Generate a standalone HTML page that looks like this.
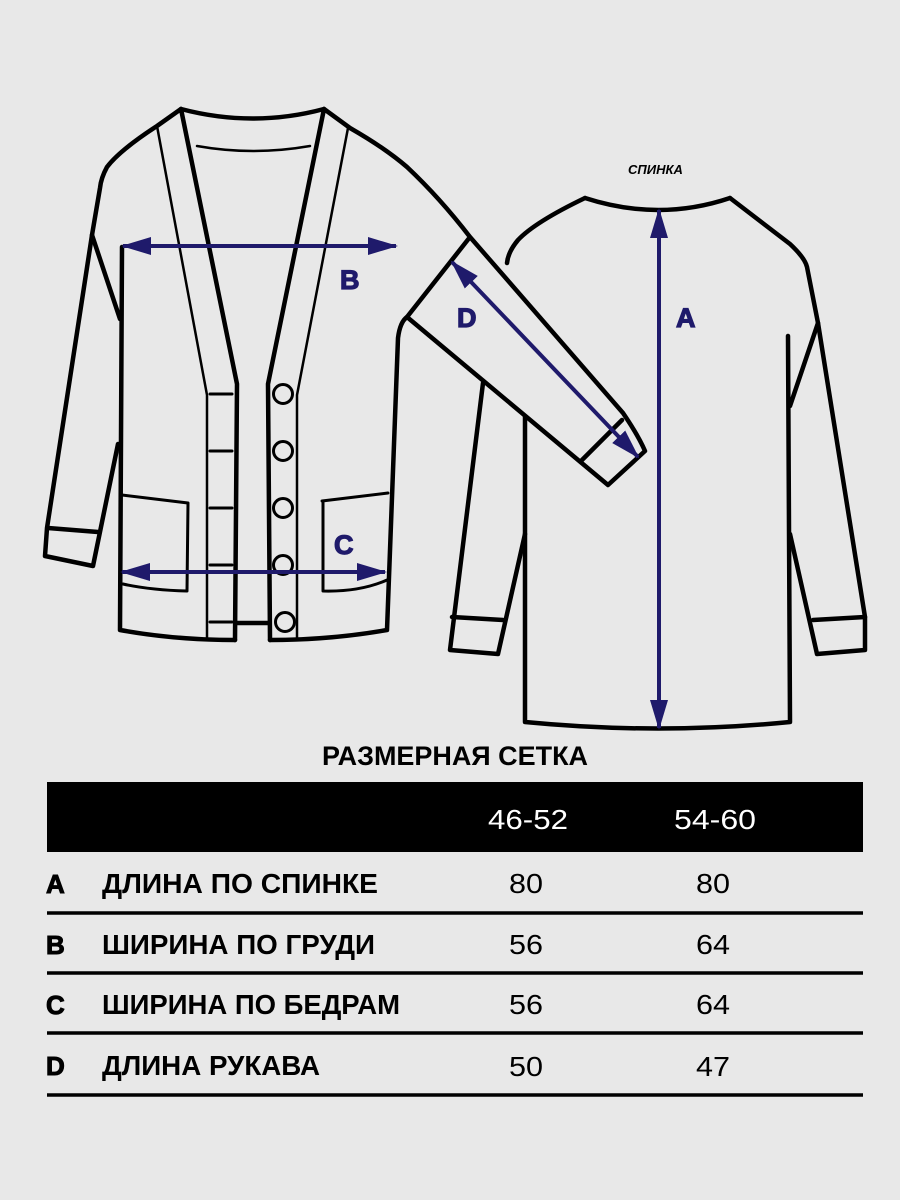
<!DOCTYPE html>
<html><head><meta charset="utf-8"><style>
html,body{margin:0;padding:0;background:#e8e8e8;}
svg{display:block}
text{font-family:"Liberation Sans",sans-serif;}
</style></head><body>
<svg width="900" height="1200" viewBox="0 0 900 1200" xmlns="http://www.w3.org/2000/svg">
<rect width="900" height="1200" fill="#e8e8e8"/>
<defs>
<marker id="ah" markerWidth="30" markerHeight="20" refX="28" refY="10" orient="auto-start-reverse" markerUnits="userSpaceOnUse" viewBox="0 0 30 20"><path d="M0,1 L30,10 L0,19 Z" fill="#1f1a6b"/></marker>
</defs>
<g fill="none" stroke="#000" stroke-width="4.5" stroke-linejoin="round" stroke-linecap="round">
<!-- BACK -->
<path d="M585,198 Q659,222 730,198"/>
<path d="M585,198 Q535,222 518,240 Q508,252 507,263"/>
<path d="M525,417 L525,722 Q659,735 790,722 L788,336"/>
<path d="M730,198 L790,244 Q805,258 807,267 L818,323 L865,617 L865,650 L817,654 L790,534"/>
<path d="M818,323 L790,406"/>
<path d="M813,620 L865,617"/>
<path d="M483,383 L450,650 L498,654 L525,534"/>
<path d="M452,617 L503,620"/>
<!-- FRONT -->
<path d="M181,109 Q253,128 324,109"/>
<path d="M197,146 Q253,156 310,146" stroke-width="2.5"/>
<path d="M181,109 L157,126 Q120,150 107,167 Q101,178 100,188 L92,235 L47,528 L45,556 L93,566 L118,444"/>
<path d="M48,528 L98,532"/>
<path d="M92,235 L120,319"/>
<path d="M122,247 L120,630 Q175,640 235,640"/>
<path d="M181,109 L237,384 L235,640"/>
<path d="M157,126 L207,395 L207,640" stroke-width="2.5"/>
<path d="M324,109 L268,384 L270,640"/>
<path d="M348,128 L297,395 L297,640" stroke-width="2.5"/>
<path d="M237,623 L268,623"/>
<path d="M270,640 Q330,640 387,630 L398,338 Q400,322 407,317"/>
<!-- pockets -->
<path d="M122,495 L188,503 L187,591 Q150,590 123,584" stroke-width="3"/>
<path d="M322,501 L388,493 M323,501 L323,591 Q360,592 387,580" stroke-width="3"/>
<!-- buttonholes -->
<path d="M210,394 L232,394 M210,451 L232,451 M210,508 L232,508 M210,565 L232,565 M210,622 L232,622" stroke-width="3"/>
<!-- sleeve -->
<path d="M324,109 L350,128 Q385,148 407,167 Q440,198 470,237 L623,413 Q638,435 645,451 L608,485 L407,317 L470,237"/>
<path d="M582,460 L622,420"/>
</g>
<g fill="none" stroke="#000" stroke-width="3">
<circle cx="283" cy="394" r="9.5"/><circle cx="283" cy="451" r="9.5"/><circle cx="283" cy="508" r="9.5"/><circle cx="283" cy="565" r="9.5"/><circle cx="285" cy="622" r="9.5"/>
</g>
<g stroke="#1f1a6b" stroke-width="4" fill="none">
<line x1="123" y1="246" x2="396" y2="246" marker-start="url(#ah)" marker-end="url(#ah)"/>
<line x1="122" y1="572" x2="385" y2="572" marker-start="url(#ah)" marker-end="url(#ah)"/>
<line x1="452" y1="262" x2="638" y2="457" marker-start="url(#ah)" marker-end="url(#ah)"/>
<line x1="659" y1="210" x2="659" y2="728" marker-start="url(#ah)" marker-end="url(#ah)"/>
</g>
<g fill="#1f1a6b" font-weight="bold" font-size="27" stroke="#1f1a6b" stroke-width="1.2">
<text x="340" y="289">B</text>
<text x="334" y="554">C</text>
<text x="457" y="327">D</text>
<text x="676" y="327">A</text>
</g>
<text x="628" y="174" font-size="13" font-weight="bold" font-style="italic">СПИНКА</text>
<!-- table -->
<text x="322" y="765" font-size="27" font-weight="bold" textLength="266" lengthAdjust="spacingAndGlyphs">РАЗМЕРНАЯ СЕТКА</text>
<rect x="47" y="782" width="816" height="70" fill="#000"/>
<text x="488" y="829" font-size="28" fill="#fff" textLength="80" lengthAdjust="spacingAndGlyphs">46-52</text>
<text x="674" y="829" font-size="28" fill="#fff" textLength="82" lengthAdjust="spacingAndGlyphs">54-60</text>
<g stroke="#000" stroke-width="3.5">
<line x1="47" y1="913" x2="863" y2="913"/><line x1="47" y1="973" x2="863" y2="973"/>
<line x1="47" y1="1033" x2="863" y2="1033"/><line x1="47" y1="1095" x2="863" y2="1095"/>
</g>
<g font-size="28" fill="#000">
<g font-weight="bold" font-size="26" stroke="#000" stroke-width="1">
<text x="46" y="893">A</text>
<text x="46" y="954">B</text>
<text x="46" y="1014">C</text>
<text x="46" y="1075">D</text>
</g>
<g font-weight="bold">
<text x="102" y="893" textLength="276" lengthAdjust="spacingAndGlyphs">ДЛИНА ПО СПИНКЕ</text>
<text x="102" y="954" textLength="273" lengthAdjust="spacingAndGlyphs">ШИРИНА ПО ГРУДИ</text>
<text x="102" y="1014" textLength="298" lengthAdjust="spacingAndGlyphs">ШИРИНА ПО БЕДРАМ</text>
<text x="102" y="1075" textLength="218" lengthAdjust="spacingAndGlyphs">ДЛИНА РУКАВА</text>
</g>
<text x="509" y="893" textLength="34" lengthAdjust="spacingAndGlyphs">80</text>
<text x="696" y="893" textLength="34" lengthAdjust="spacingAndGlyphs">80</text>
<text x="509" y="954" textLength="34" lengthAdjust="spacingAndGlyphs">56</text>
<text x="696" y="954" textLength="34" lengthAdjust="spacingAndGlyphs">64</text>
<text x="509" y="1014" textLength="34" lengthAdjust="spacingAndGlyphs">56</text>
<text x="696" y="1014" textLength="34" lengthAdjust="spacingAndGlyphs">64</text>
<text x="509" y="1076" textLength="34" lengthAdjust="spacingAndGlyphs">50</text>
<text x="696" y="1076" textLength="34" lengthAdjust="spacingAndGlyphs">47</text>
</g>
</svg>
</body></html>
